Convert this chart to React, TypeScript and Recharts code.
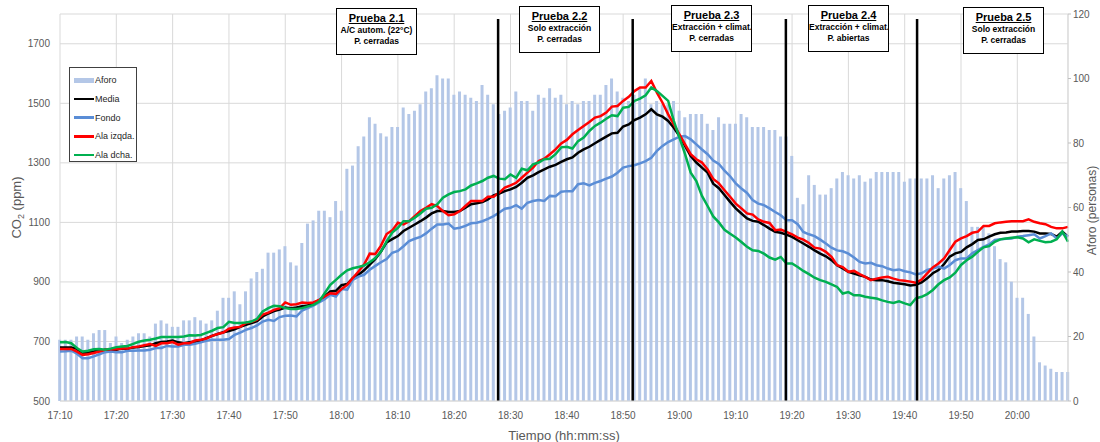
import React from "react";
import {
  ComposedChart,
  Bar,
  Line,
  XAxis,
  YAxis,
  CartesianGrid,
  Legend,
  ReferenceLine,
} from "recharts";

// one value per minute, 17:10 -> 20:09
const aforo = [
  19, 19, 19, 20, 20, 19, 21, 22, 22, 18,
  20, 18, 19, 20, 21, 21, 20, 24, 25, 24,
  23, 23, 25, 25, 26, 25, 24, 25, 28, 32,
  32, 34, 30, 34, 38, 40, 41, 46, 46, 47,
  48, 43, 42, 49, 55, 56, 59, 59, 57, 62,
  59, 72, 73, 79, 82, 88, 86, 83, 82, 85,
  85, 91, 89, 90, 92, 96, 97, 101, 100, 100,
  95, 96, 95, 94, 93, 98, 95, 92, 89, 90,
  91, 96, 93, 93, 90, 95, 94, 97, 94, 95,
  92, 93, 92, 93, 93, 95, 95, 98, 100, 96,
  94, 93, 95, 97, 100, 92, 93, 92, 92, 93,
  90, 88, 89, 89, 89, 86, 84, 88, 86, 86,
  86, 89, 88, 85, 85, 85, 84, 84, 82, 82,
  76, 63, 61, 70, 67, 64, 64, 66, 69, 71,
  70, 69, 70, 68, 69, 71, 71, 71, 71, 71,
  68, 69, 69, 69, 69, 70, 66, 69, 70, 71,
  66, 62, 54, 54, 54, 52, 48, 44, 43, 37,
  32, 32, 27, 20, 12, 11, 10, 9, 9, 9,
];

const media = [
  680, 680, 680, 675, 661, 664, 666, 669, 672, 672,
  672, 676, 675, 680, 681, 685, 687, 694, 698, 700,
  703, 697, 694, 697, 700, 703, 711, 719, 725, 731,
  735, 741, 749, 756, 762, 768, 784, 794, 802, 807,
  814, 812, 814, 818, 821, 829, 838, 851, 868, 870,
  889, 893, 913, 924, 939, 958, 977, 1002, 1033, 1044,
  1054, 1071, 1082, 1093, 1104, 1116, 1130, 1138, 1138, 1135,
  1135, 1138, 1149, 1161, 1164, 1168, 1177, 1191, 1197, 1205,
  1211, 1219, 1233, 1250, 1258, 1269, 1278, 1287, 1293, 1303,
  1312, 1318, 1334, 1345, 1354, 1366, 1377, 1388, 1399, 1401,
  1422, 1429, 1444, 1452, 1463, 1480, 1463, 1455, 1441, 1418,
  1390, 1357, 1323, 1301, 1284, 1267, 1230, 1215, 1192, 1169,
  1147, 1130, 1113, 1105, 1102, 1091, 1079, 1068, 1065, 1059,
  1051, 1040, 1029, 1018, 1006, 995, 986, 973, 956, 945,
  934, 928, 922, 917, 908, 906, 906, 902, 897, 895,
  892, 888, 890, 898, 912, 929, 940, 960, 985, 996,
  1001, 1016, 1027, 1041, 1043, 1052, 1060, 1065, 1066, 1069,
  1069, 1071, 1071, 1069, 1063, 1063, 1061, 1052, 1069, 1052,
];

const fondo = [
  666, 667, 669, 659, 644, 644, 650, 657, 664, 666,
  664, 664, 669, 669, 670, 670, 672, 678, 678, 685,
  683, 683, 689, 689, 692, 697, 702, 706, 706, 706,
  708, 722, 730, 739, 745, 754, 767, 773, 769, 782,
  786, 787, 784, 804, 812, 820, 831, 842, 857, 851,
  876, 874, 907, 918, 924, 941, 954, 966, 977, 998,
  1004, 1020, 1037, 1045, 1051, 1063, 1079, 1093, 1093, 1096,
  1079, 1082, 1088, 1097, 1099, 1104, 1112, 1121, 1133, 1146,
  1149, 1158, 1146, 1166, 1172, 1175, 1172, 1189, 1188, 1203,
  1205, 1205, 1228, 1231, 1224, 1233, 1239, 1247, 1254, 1267,
  1284, 1289, 1292, 1298, 1306, 1317, 1340, 1357, 1370, 1379,
  1388, 1390, 1379, 1362, 1345, 1329, 1308, 1296, 1274, 1255,
  1231, 1214, 1199, 1175, 1163, 1158, 1147, 1135, 1124, 1107,
  1107, 1094, 1068, 1060, 1054, 1042, 1029, 1015, 1006, 1003,
  995, 982, 967, 962, 964, 956, 953, 945, 939, 942,
  936, 932, 925, 929, 940, 945, 951, 945, 957, 973,
  979, 979, 996, 1007, 1018, 1026, 1041, 1043, 1045, 1046,
  1052, 1054, 1057, 1060, 1046, 1054, 1063, 1046, 1063, 1052,
];

const alaIzqda = [
  675, 675, 675, 666, 655, 657, 661, 666, 672, 674,
  674, 676, 676, 681, 683, 687, 691, 685, 694, 694,
  698, 689, 694, 694, 703, 706, 710, 719, 725, 730,
  743, 747, 749, 762, 766, 773, 790, 797, 806, 812,
  831, 823, 825, 831, 829, 831, 840, 851, 862, 860,
  876, 890, 913, 935, 958, 995, 994, 1022, 1061, 1073,
  1099, 1093, 1104, 1121, 1138, 1149, 1161, 1155, 1138, 1124,
  1127, 1138, 1155, 1172, 1172, 1172, 1186, 1186, 1200, 1217,
  1224, 1233, 1250, 1267, 1284, 1306, 1314, 1329, 1345, 1365,
  1377, 1396, 1410, 1424, 1437, 1452, 1457, 1469, 1489, 1491,
  1508, 1522, 1541, 1553, 1553, 1575, 1536, 1502, 1463, 1429,
  1396, 1362, 1329, 1312, 1301, 1278, 1246, 1231, 1208, 1186,
  1163, 1147, 1130, 1126, 1110, 1102, 1098, 1074, 1076, 1068,
  1060, 1049, 1042, 1031, 1015, 1012, 1001, 984, 956, 950,
  934, 937, 926, 917, 906, 911, 915, 917, 911, 906,
  904, 901, 897, 908, 929, 949, 962, 979, 1007, 1035,
  1046, 1054, 1065, 1069, 1088, 1088, 1097, 1100, 1102, 1104,
  1104, 1104, 1110, 1102, 1097, 1094, 1085, 1080, 1080, 1085,
];

const alaDcha = [
  697, 698, 694, 678, 666, 669, 674, 675, 672, 676,
  681, 683, 685, 692, 699, 703, 706, 710, 715, 715,
  715, 715, 717, 721, 720, 722, 729, 736, 745, 748,
  766, 762, 762, 764, 767, 776, 801, 812, 820, 818,
  812, 809, 809, 812, 818, 823, 834, 862, 890, 907,
  924, 939, 946, 950, 955, 966, 980, 1002, 1036, 1066,
  1082, 1104, 1104, 1116, 1130, 1146, 1149, 1161, 1183, 1194,
  1202, 1205, 1211, 1224, 1231, 1239, 1250, 1256, 1247, 1245,
  1261, 1250, 1280, 1275, 1295, 1301, 1312, 1314, 1329, 1352,
  1354, 1348, 1373, 1385, 1407, 1424, 1435, 1448, 1460, 1457,
  1485, 1488, 1508, 1516, 1527, 1553, 1541, 1525, 1508, 1441,
  1385, 1329, 1267, 1239, 1189, 1155, 1120, 1100, 1075, 1062,
  1049, 1034, 1018, 1006, 1004, 995, 982, 975, 984, 962,
  962, 950, 937, 926, 914, 906, 900, 892, 883, 861,
  866, 855, 855, 850, 847, 844, 838, 833, 829, 835,
  828, 822, 845, 850, 859, 873, 892, 906, 915, 931,
  957, 973, 985, 1001, 1016, 1020, 1035, 1043, 1046, 1048,
  1050, 1046, 1033, 1043, 1038, 1033, 1035, 1043, 1069, 1035,
];

const xTicks = [0, 10, 20, 30, 40, 50, 60, 70, 80, 90, 100, 110, 120, 130, 140, 150, 160, 170];
const xTickLabels = [
  "17:10", "17:20", "17:30", "17:40", "17:50", "18:00", "18:10", "18:20", "18:30",
  "18:40", "18:50", "19:00", "19:10", "19:20", "19:30", "19:40", "19:50", "20:00",
];
const co2Ticks = [500, 700, 900, 1100, 1300, 1500, 1700];
const aforoTicks = [0, 20, 40, 60, 80, 100, 120];

// minutes after 17:10 where each test ends
const testBoundaries = [77.8, 101.7, 128.9, 152.2];

const tests = [
  { title: "Prueba 2.1", lines: ["A/C autom. (22°C)", "P. cerradas"] },
  { title: "Prueba 2.2", lines: ["Solo extracción", "P. cerradas"] },
  { title: "Prueba 2.3", lines: ["Extracción + climat.", "P. cerradas"] },
  { title: "Prueba 2.4", lines: ["Extracción + climat.", "P. abiertas"] },
  { title: "Prueba 2.5", lines: ["Solo extracción", "P. cerradas"] },
];

const chartData = aforo.map((a, i) => ({
  t: i,
  aforo: a,
  media: media[i],
  fondo: fondo[i],
  izq: alaIzqda[i],
  dcha: alaDcha[i],
}));

const FONT = '"Liberation Sans", Arial, sans-serif';
const AXIS_TEXT = "#595959";
const GRID = "#d9d9d9";

const legendItems = [
  { label: "Aforo", color: "#b4c7e7", bar: true },
  { label: "Media", color: "#000000" },
  { label: "Fondo", color: "#5a8dd6" },
  { label: "Ala izqda.", color: "#ff0000" },
  { label: "Ala dcha.", color: "#00b050" },
];

// box placement for the test captions (left, top, width, height)
const boxPos = [
  [336, 8, 81, 47],
  [519, 6, 81, 47],
  [671, 5, 81, 47],
  [808, 5, 81, 47],
  [963, 7, 81, 47],
];

const renderLegend = () => (
  <div
    style={{
      width: 68,
      height: 95,
      boxSizing: "border-box",
      border: "1px solid #404040",
      background: "#fff",
      fontFamily: FONT,
      fontSize: 9,
      color: "#262626",
      paddingTop: 3,
    }}
  >
    {legendItems.map((it) => (
      <div
        key={it.label}
        style={{ display: "flex", alignItems: "center", height: 18.7, paddingLeft: 4, whiteSpace: "nowrap" }}
      >
        <span
          style={{
            display: "inline-block",
            flex: "0 0 20px",
            height: it.bar ? 5 : 2.5,
            background: it.color,
            marginRight: 1,
          }}
        />
        <span>{it.label}</span>
      </div>
    ))}
  </div>
);

export default function App() {
  return (
    <div style={{ position: "absolute", left: 0, top: 0, width: 1100, height: 442, background: "#fff" }}>
      <ComposedChart
        width={1100}
        height={442}
        data={chartData}
        margin={{ top: 14, right: 0, bottom: 0, left: 0 }}
        style={{ fontFamily: FONT }}
      >
        <CartesianGrid stroke={GRID} strokeWidth={1} />
        <XAxis
          dataKey="t"
          type="number"
          domain={[0, 179]}
          ticks={xTicks}
          interval={0}
          tickFormatter={(v) => xTickLabels[xTicks.indexOf(v)]}
          height={41}
          axisLine={{ stroke: GRID }}
          tickLine={false}
          tickSize={0}
          tickMargin={11}
          tick={{ fontSize: 10, fill: AXIS_TEXT }}
          label={{
            value: "Tiempo (hh:mm:ss)",
            position: "insideBottom",
            offset: 2,
            fill: AXIS_TEXT,
            fontSize: 13,
          }}
        />
        <YAxis
          domain={[500, 1800]}
          ticks={co2Ticks}
          interval={0}
          width={60}
          axisLine={false}
          tickLine={false}
          tickSize={0}
          tickMargin={10}
          tick={{ fontSize: 10, fill: AXIS_TEXT }}
          label={{
            content: ({ viewBox }: any) => {
              const x = viewBox.x + 21;
              const y = viewBox.y + viewBox.height / 2;
              return (
                <text x={x} y={y} transform={`rotate(-90, ${x}, ${y})`} textAnchor="middle" fill={AXIS_TEXT} fontSize={13}>
                  CO
                  <tspan fontSize={9} dy={3}>2</tspan>
                  <tspan dy={-3}> (ppm)</tspan>
                </text>
              );
            },
          }}
        />
        <YAxis
          yAxisId="right"
          orientation="right"
          domain={[0, 120]}
          ticks={aforoTicks}
          interval={0}
          width={32}
          axisLine={{ stroke: GRID }}
          tickLine={{ stroke: "#bfbfbf" }}
          tickSize={3}
          tickMargin={2}
          tick={{ fontSize: 10, fill: AXIS_TEXT }}
          label={{
            content: ({ viewBox }: any) => {
              const x = viewBox.x + 28;
              const y = viewBox.y + viewBox.height / 2 + 3;
              return (
                <text x={x} y={y} transform={`rotate(-90, ${x}, ${y})`} textAnchor="middle" fill={AXIS_TEXT} fontSize={12}>
                  Aforo (personas)
                </text>
              );
            },
          }}
        />
        <Legend
          layout="vertical"
          align="center"
          verticalAlign="middle"
          content={renderLegend}
          wrapperStyle={{ left: 69, top: 67, width: 68, height: 95 }}
        />
        <Bar yAxisId="right" dataKey="aforo" name="Aforo" fill="#b4c7e7" barSize={3} isAnimationActive={false} />
        <Line dataKey="media" name="Media" stroke="#000000" strokeWidth={2.5} dot={false} isAnimationActive={false} />
        <Line dataKey="fondo" name="Fondo" stroke="#5a8dd6" strokeWidth={2.5} dot={false} isAnimationActive={false} />
        <Line dataKey="izq" name="Ala izqda." stroke="#ff0000" strokeWidth={2.5} dot={false} isAnimationActive={false} />
        <Line dataKey="dcha" name="Ala dcha." stroke="#00b050" strokeWidth={2.5} dot={false} isAnimationActive={false} />
        {testBoundaries.map((b) => (
          <ReferenceLine
            key={b}
            segment={[{ x: b, y: 500 }, { x: b, y: 1783 }]}
            stroke="#000"
            strokeWidth={2.5}
          />
        ))}
      </ComposedChart>
      {tests.map((t, i) => {
        const [l, tp, w, h] = boxPos[i];
        return (
          <div
            key={t.title}
            style={{
              position: "absolute",
              left: l,
              top: tp,
              width: w,
              height: h,
              boxSizing: "border-box",
              border: "1.5px solid #000",
              background: "#fff",
              fontFamily: FONT,
              fontWeight: "bold",
              textAlign: "center",
              color: "#000",
              paddingTop: 3,
            }}
          >
            <div style={{ fontSize: 11, textDecoration: "underline", lineHeight: "13px" }}>{t.title}</div>
            {t.lines.map((ln) => (
              <div key={ln} style={{ fontSize: 8.5, lineHeight: "11px", whiteSpace: "nowrap" }}>
                {ln}
              </div>
            ))}
          </div>
        );
      })}
    </div>
  );
}
